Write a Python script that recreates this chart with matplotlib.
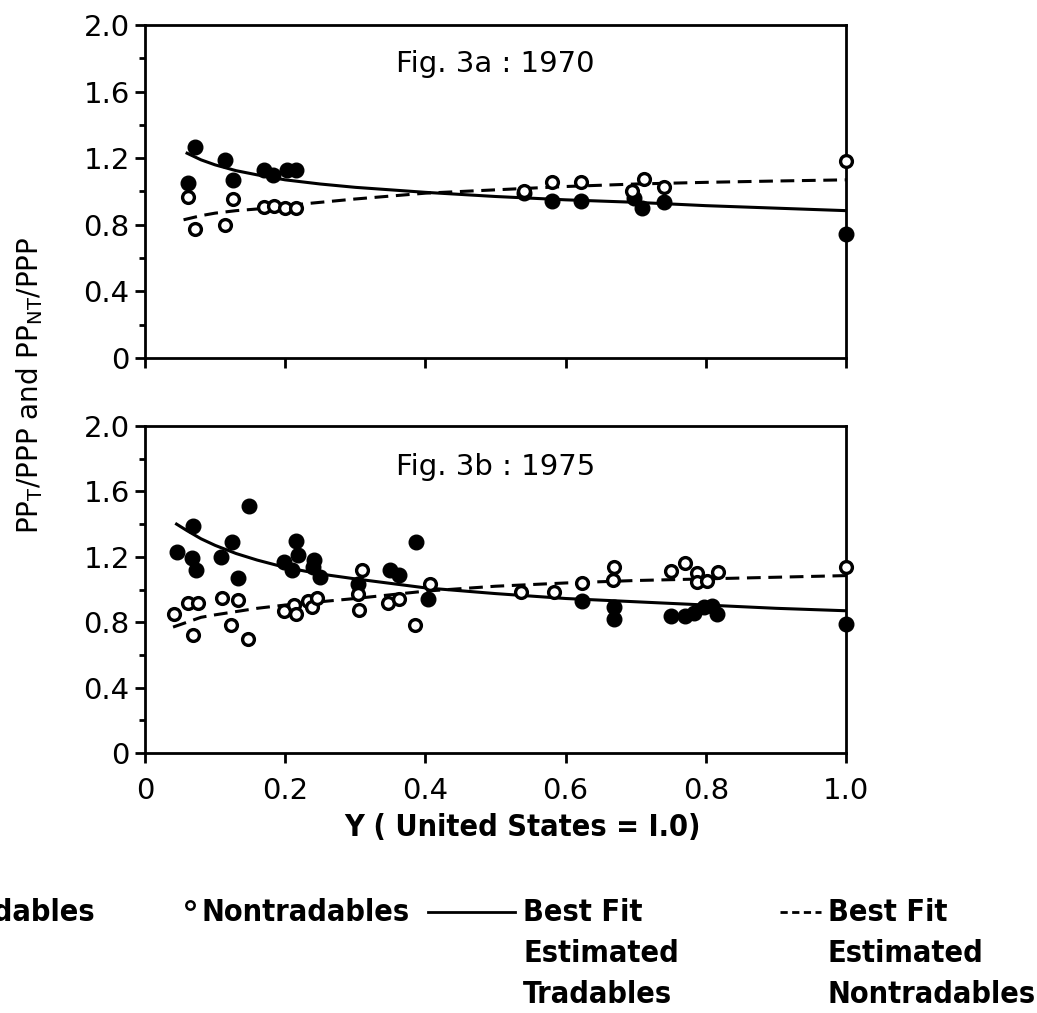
import matplotlib
matplotlib.use("Agg")
import matplotlib.pyplot as plt
from matplotlib.lines import Line2D

# --- data ---
# Fig. 3a : 1970
y70_trad_x = [0.062, 0.072, 0.114, 0.125, 0.170, 0.183, 0.202, 0.215,
              0.540, 0.581, 0.622, 0.697, 0.709, 0.740, 1.000]
y70_trad_y = [1.05, 1.27, 1.19, 1.07, 1.13, 1.10, 1.13, 1.13,
              0.99, 0.94, 0.94, 0.96, 0.90, 0.935, 0.745]
y70_nontrad_x = [0.062, 0.072, 0.114, 0.125, 0.170, 0.184, 0.200, 0.215,
                 0.540, 0.581, 0.622, 0.695, 0.712, 0.740, 1.000]
y70_nontrad_y = [0.965, 0.775, 0.80, 0.955, 0.905, 0.91, 0.90, 0.90,
                 1.00, 1.055, 1.055, 1.00, 1.075, 1.025, 1.185]
fit70_trad_x = [0.06, 0.08, 0.10, 0.13, 0.16, 0.20, 0.25, 0.30, 0.40, 0.50,
                0.60, 0.70, 0.80, 0.90, 1.00]
fit70_trad_y = [1.23, 1.19, 1.16, 1.125, 1.10, 1.07, 1.045, 1.025, 0.995, 0.97,
                0.95, 0.935, 0.915, 0.90, 0.885]
fit70_nontrad_x = [0.055, 0.08, 0.10, 0.13, 0.16, 0.20, 0.25, 0.30, 0.40, 0.50,
                   0.60, 0.70, 0.80, 0.90, 1.00]
fit70_nontrad_y = [0.83, 0.855, 0.87, 0.885, 0.895, 0.915, 0.935, 0.955, 0.99, 1.01,
                   1.03, 1.045, 1.055, 1.063, 1.07]

# Fig. 3b : 1975
y75_trad_x = [0.046, 0.069, 0.067, 0.073, 0.108, 0.124, 0.133, 0.148, 0.199, 0.209,
              0.215, 0.218, 0.239, 0.241, 0.249, 0.304, 0.349, 0.363, 0.386, 0.404,
              0.624, 0.669, 0.669, 0.750, 0.771, 0.783, 0.797, 0.809, 0.816, 1.000]
y75_trad_y = [1.23, 1.39, 1.19, 1.12, 1.20, 1.29, 1.07, 1.51, 1.17, 1.12,
              1.295, 1.21, 1.135, 1.18, 1.075, 1.035, 1.12, 1.09, 1.29, 0.94,
              0.93, 0.89, 0.82, 0.84, 0.835, 0.855, 0.89, 0.90, 0.85, 0.79]
y75_nontrad_x = [0.042, 0.062, 0.076, 0.068, 0.110, 0.133, 0.123, 0.147, 0.199, 0.213,
                 0.216, 0.233, 0.238, 0.246, 0.309, 0.304, 0.305, 0.346, 0.362, 0.385,
                 0.406, 0.536, 0.584, 0.624, 0.669, 0.667, 0.750, 0.771, 0.787, 0.788,
                 0.802, 0.817, 1.000]
y75_nontrad_y = [0.85, 0.915, 0.915, 0.72, 0.95, 0.935, 0.78, 0.695, 0.87, 0.905,
                 0.85, 0.93, 0.895, 0.95, 1.12, 0.975, 0.875, 0.92, 0.94, 0.78,
                 1.035, 0.985, 0.985, 1.04, 1.135, 1.06, 1.115, 1.16, 1.10, 1.045,
                 1.055, 1.11, 1.14]
fit75_trad_x = [0.045, 0.06, 0.08, 0.10, 0.13, 0.16, 0.20, 0.25, 0.30, 0.40,
                0.50, 0.60, 0.70, 0.80, 0.90, 1.00]
fit75_trad_y = [1.40, 1.36, 1.31, 1.27, 1.22, 1.18, 1.135, 1.095, 1.065, 1.01,
                0.975, 0.945, 0.925, 0.905, 0.885, 0.87]
fit75_nontrad_x = [0.04, 0.06, 0.08, 0.10, 0.13, 0.16, 0.20, 0.25, 0.30, 0.40,
                   0.50, 0.60, 0.70, 0.80, 0.90, 1.00]
fit75_nontrad_y = [0.77, 0.80, 0.83, 0.845, 0.865, 0.885, 0.905, 0.925, 0.945, 0.99,
                   1.02, 1.04, 1.055, 1.065, 1.075, 1.085]

x_ticks = [0, 0.2, 0.4, 0.6, 0.8, 1.0]
x_ticklabels = ["0", "0.2", "0.4", "0.6", "0.8", "1.0"]
y_ticks = [0, 0.4, 0.8, 1.2, 1.6, 2.0]
y_ticklabels = ["0", "0.4", "0.8", "1.2", "1.6", "2.0"]

plt.rcParams["font.family"] = ["DejaVu Sans"]

fig = plt.figure(figsize=(10.37, 10.13), dpi=100)
W, H = 1037.0, 1013.0

def box(left, top, right, bottom):
    return [left / W, 1 - bottom / H, (right - left) / W, (bottom - top) / H]

ax_top = fig.add_axes(box(145, 25, 846, 358))
ax_bot = fig.add_axes(box(145, 426, 846, 753))

LW = 2.2
DASH = (4.5, 2.5)

def panel(ax, tx, ty, nx, ny, ftx, fty, fnx, fny, title, ty_title, show_xlabels):
    ax.plot(ftx, fty, color="black", lw=LW, zorder=2)
    ax.plot(fnx, fny, color="black", lw=LW, dashes=DASH, zorder=2)
    ax.plot(tx, ty, "o", ms=10.5, mfc="black", mec="black", ls="none",
            zorder=3, clip_on=False)
    ax.plot(nx, ny, "o", ms=8.5, mfc="white", mec="black", mew=2.4, ls="none",
            zorder=4, clip_on=False)
    ax.set_xlim(0, 1.0)
    ax.set_ylim(0, 2.0)
    ax.set_yticks(y_ticks)
    ax.set_yticklabels(y_ticklabels)
    ax.set_yticks([0.2, 0.6, 1.0, 1.4, 1.8], minor=True)
    ax.set_xticks(x_ticks)
    if show_xlabels:
        ax.set_xticklabels(x_ticklabels)
    else:
        ax.set_xticklabels([])
    ax.tick_params(which="major", direction="out", length=7, width=2,
                   labelsize=21, pad=4)
    ax.tick_params(axis="x", which="major", pad=10)
    ax.tick_params(which="minor", direction="out", length=4, width=2)
    for s in ax.spines.values():
        s.set_linewidth(2)
    ax.text(0.5, ty_title, title, transform=ax.transAxes, ha="center",
            va="center", fontsize=21)

panel(ax_top, y70_trad_x, y70_trad_y, y70_nontrad_x, y70_nontrad_y,
      fit70_trad_x, fit70_trad_y, fit70_nontrad_x, fit70_nontrad_y,
      "Fig. 3a : 1970", 0.883, False)
panel(ax_bot, y75_trad_x, y75_trad_y, y75_nontrad_x, y75_nontrad_y,
      fit75_trad_x, fit75_trad_y, fit75_nontrad_x, fit75_nontrad_y,
      "Fig. 3b : 1975", 0.875, True)

# axis labels
fig.text(30 / W, 1 - 385 / H, r"PP$_{\mathrm{T}}$/PPP and PP$_{\mathrm{NT}}$/PPP",
         rotation=90, ha="center", va="center", fontsize=20)
fig.text(522 / W, 1 - 828 / H, "Y ( United States = I.0)", ha="center",
         va="center", fontsize=22, fontstretch="condensed", fontweight="bold")

# legend drawn by hand (left item runs off the page, as in the source)
leg_font = dict(fontsize=22, fontstretch="condensed", fontweight="bold",
                va="center")
row1, row2, row3 = 1 - 912 / H, 1 - 953 / H, 1 - 994 / H
fig.text(95 / W, row1, "\u25cf Tradables", ha="right", **leg_font)
fig.add_artist(Line2D([190 / W], [1 - 905 / H], marker="o", ms=6, mfc="white",
                      mec="black", mew=1.8, ls="none", transform=fig.transFigure))
fig.text(201 / W, row1, "Nontradables", ha="left", **leg_font)
fig.add_artist(Line2D([428 / W, 515 / W], [row1, row1], color="black", lw=2,
                      transform=fig.transFigure))
for i, txt in enumerate(["Best Fit", "Estimated", "Tradables"]):
    fig.text(523 / W, [row1, row2, row3][i], txt, ha="left", **leg_font)
fig.add_artist(Line2D([780 / W, 821 / W], [row1, row1], color="black", lw=2,
                      dashes=(2.6, 1.6), transform=fig.transFigure))
for i, txt in enumerate(["Best Fit", "Estimated", "Nontradables"]):
    fig.text(828 / W, [row1, row2, row3][i], txt, ha="left", **leg_font)

fig.savefig("out.png", dpi=100)
